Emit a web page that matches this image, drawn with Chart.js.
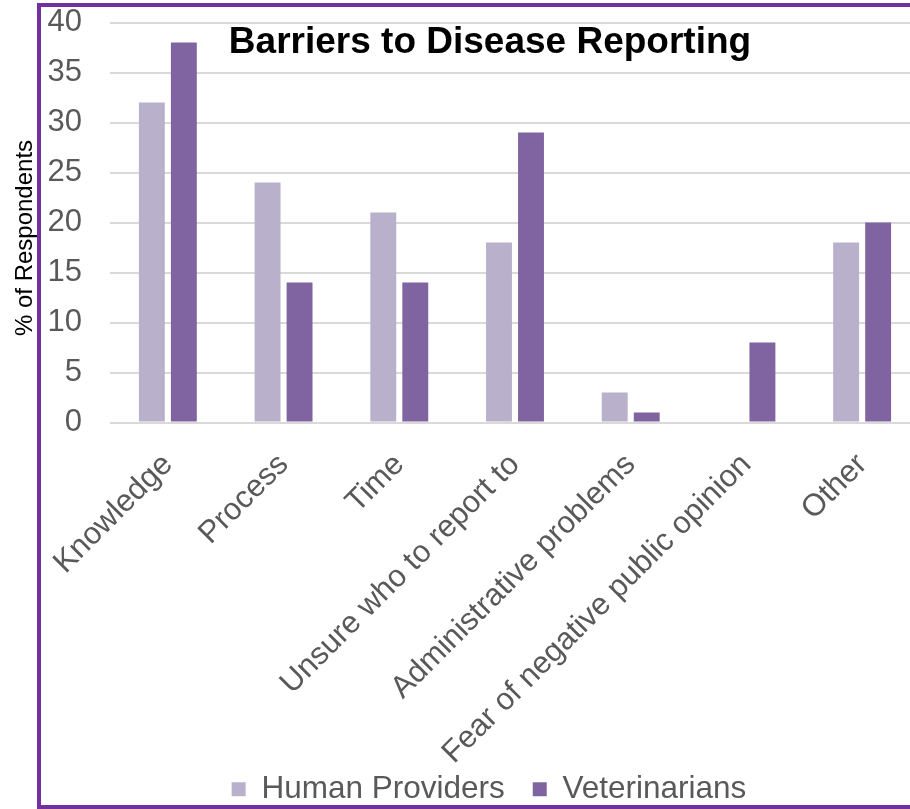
<!DOCTYPE html>
<html>
<head>
<meta charset="utf-8">
<script src="https://cdn.jsdelivr.net/npm/chart.js@4/dist/chart.umd.min.js"></script>
<style>
  html, body { margin: 0; padding: 0; width: 910px; height: 809px; overflow: hidden; background: #fff; }
  #wrap { position: absolute; left: 0; top: -24px; width: 941px; height: 839px; }
  #frame {
    position: absolute; left: 37px; top: 3px; width: 1000px; height: 806px;
    border: 4px solid #7030A0; border-right: none; box-sizing: border-box; pointer-events: none;
  }
</style>
</head>
<body>
<div id="wrap"><canvas id="chart" width="941" height="839"></canvas></div>
<div id="frame"></div>
<script>
// --- data ---
const categories = [
  "Knowledge", "Process", "Time", "Unsure who to report to",
  "Administrative problems", "Fear of negative public opinion", "Other"
];
const humanProviders = [32, 24, 21, 18, 3, 0, 18];
const veterinarians = [38, 14, 14, 29, 1, 8, 20];
const yTicks = [0, 5, 10, 15, 20, 25, 30, 35, 40];

const FONT = "'Liberation Sans', Arial, sans-serif";
const GREY = "#595959";

// title sits over the plot, centred on the frame; axis title sits outside the frame
const textPlugin = {
  id: "overText",
  beforeDraw(chart) {
    // tick labels run past their axis boxes, don't clip them
    chart.scales.x._computeLabelArea = () => null;
    chart.scales.y._computeLabelArea = () => null;
  },
  afterDraw(chart) {
    const ctx = chart.ctx;
    ctx.save();
    ctx.font = "bold 37px " + FONT;
    ctx.fillStyle = "#000";
    ctx.textAlign = "center";
    ctx.textBaseline = "middle";
    ctx.fillText("Barriers to Disease Reporting", 490, 43 + 24);
    ctx.translate(25, 238 + 24);
    ctx.rotate(-Math.PI / 2);
    ctx.font = "24px " + FONT;
    ctx.fillText("% of Respondents", 0, 0);
    ctx.restore();
  }
};

new Chart(document.getElementById("chart"), {
  type: "bar",
  data: {
    labels: categories,
    datasets: [
      { label: "Human Providers", data: humanProviders, backgroundColor: "#B9B0CC",
        categoryPercentage: 0.553, barPercentage: 0.81 },
      { label: "Veterinarians", data: veterinarians, backgroundColor: "#8064A2",
        categoryPercentage: 0.553, barPercentage: 0.81 }
    ]
  },
  options: {
    responsive: false,
    animation: false,
    devicePixelRatio: 1,
    layout: { padding: { left: 58, right: 21, top: 0, bottom: 0 } },
    plugins: {
      legend: {
        position: "bottom",
        labels: { font: { family: FONT, size: 31.5 }, color: GREY, boxWidth: 14, boxHeight: 14, padding: 28 }
      },
      tooltip: { enabled: false }
    },
    scales: {
      x: {
        grid: { display: false },
        border: { display: false },
        ticks: { font: { family: FONT, size: 31 }, color: GREY, maxRotation: 45, minRotation: 45, autoSkip: false, padding: 16 },
        afterFit: (s) => { s.height = 323; }
      },
      y: {
        min: 0, max: 40,
        afterBuildTicks: (s) => { s.ticks = yTicks.map(v => ({ value: v })); },
        grid: { color: "#D9D9D9", lineWidth: 2, drawTicks: false },
        border: { display: false },
        ticks: { font: { family: FONT, size: 31 }, color: GREY, padding: 28 },
        afterFit: (s) => { s.width = 52; }
      }
    }
  },
  plugins: [textPlugin]
});
</script>
</body>
</html>
